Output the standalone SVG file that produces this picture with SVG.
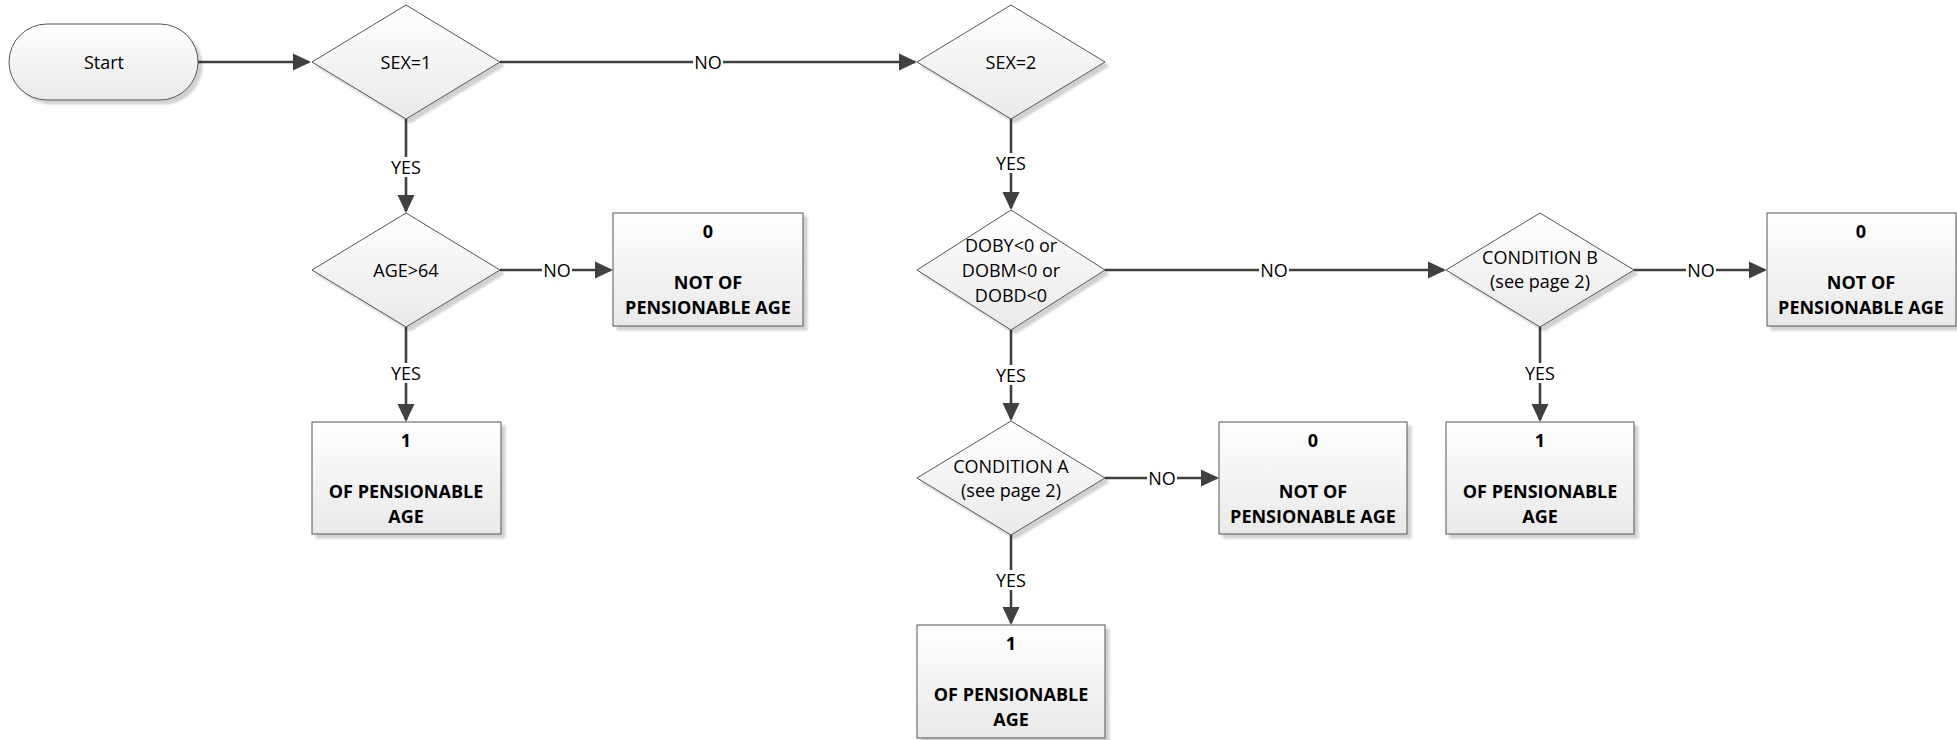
<svg xmlns="http://www.w3.org/2000/svg" width="1957" height="740" viewBox="0 0 1957 740">
<defs>
<linearGradient id="g" x1="0" y1="0" x2="0" y2="1">
<stop offset="0" stop-color="#ffffff"/>
<stop offset="1" stop-color="#e9e9e9"/>
</linearGradient>
<filter id="sh" x="-10%" y="-10%" width="125%" height="130%">
<feDropShadow dx="4" dy="4" stdDeviation="1.2" flood-color="#000" flood-opacity="0.18"/>
</filter>
<marker id="arr" markerUnits="userSpaceOnUse" markerWidth="20" markerHeight="20" refX="16" refY="9" orient="auto" viewBox="0 0 20 20">
<path d="M0,0.5 L18,9 L0,17.5 z" fill="#404040"/>
</marker>
<style>
.shape{fill:url(#g);stroke:#555;stroke-width:1;filter:url(#sh)}
.t{font-family:"Open Sans","Liberation Sans",sans-serif;font-size:18px;fill:#000;text-anchor:middle}
.b{font-weight:bold}
.c{fill:none;stroke:#404040;stroke-width:2.6;marker-end:url(#arr)}
.lb{fill:#fff}
</style>
</defs>
<rect width="1957" height="740" fill="#fff"/>

<g id="connectors">
<path class="c" d="M198,62 H309"/>
<path class="c" d="M500,62 H915"/>
<path class="c" d="M406,119 V211"/>
<path class="c" d="M500,270 H611"/>
<path class="c" d="M406,327 V420"/>
<path class="c" d="M1011,119 V208"/>
<path class="c" d="M1105,270 H1444"/>
<path class="c" d="M1634,270 H1765"/>
<path class="c" d="M1540,327 V420"/>
<path class="c" d="M1011,330 V419"/>
<path class="c" d="M1105,478 H1217"/>
<path class="c" d="M1011,535 V623"/>
<g id="labels">
<rect class="lb" x="693" y="52" width="30" height="20"/><text class="t" x="708" y="68.5">NO</text>
<rect class="lb" x="389" y="157" width="34" height="20"/><text class="t" x="406" y="173.5">YES</text>
<rect class="lb" x="542" y="260" width="30" height="20"/><text class="t" x="557" y="276.5">NO</text>
<rect class="lb" x="389" y="363" width="34" height="20"/><text class="t" x="406" y="379.5">YES</text>
<rect class="lb" x="994" y="153" width="34" height="20"/><text class="t" x="1011" y="169.5">YES</text>
<rect class="lb" x="1259" y="260" width="30" height="20"/><text class="t" x="1274" y="276.5">NO</text>
<rect class="lb" x="1686" y="260" width="30" height="20"/><text class="t" x="1701" y="276.5">NO</text>
<rect class="lb" x="1523" y="363" width="34" height="20"/><text class="t" x="1540" y="379.5">YES</text>
<rect class="lb" x="994" y="365" width="34" height="20"/><text class="t" x="1011" y="381.5">YES</text>
<rect class="lb" x="1147" y="468" width="30" height="20"/><text class="t" x="1162" y="484.5">NO</text>
<rect class="lb" x="994" y="570" width="34" height="20"/><text class="t" x="1011" y="586.5">YES</text>
</g>
</g>

<g id="start">
<rect class="shape" x="9" y="24" width="189" height="76" rx="38" ry="38"/>
<text class="t" x="104" y="68.5">Start</text>
</g>

<g id="sex1">
<polygon class="shape" points="406,5 500,62 406,119 312,62"/>
<text class="t" x="406" y="68.5">SEX=1</text>
</g>

<g id="sex2">
<polygon class="shape" points="1011,5 1105,62 1011,119 917,62"/>
<text class="t" x="1011" y="68.5">SEX=2</text>
</g>

<g id="age64">
<polygon class="shape" points="406,213 500,270 406,327 312,270"/>
<text class="t" x="406" y="276.5">AGE&gt;64</text>
</g>

<g id="notpens1">
<rect class="shape" x="613" y="213" width="190" height="113"/>
<text class="t b" x="708" y="238">0</text>
<text class="t b" x="708" y="289">NOT OF</text>
<text class="t b" x="708" y="314">PENSIONABLE AGE</text>
</g>

<g id="pens1">
<rect class="shape" x="312" y="422" width="189" height="112"/>
<text class="t b" x="406" y="447">1</text>
<text class="t b" x="406" y="498">OF PENSIONABLE</text>
<text class="t b" x="406" y="523">AGE</text>
</g>

<g id="dob">
<polygon class="shape" points="1011,210 1105,270 1011,330 917,270"/>
<text class="t" x="1011" y="251.5">DOBY&lt;0 or</text>
<text class="t" x="1011" y="276.5">DOBM&lt;0 or</text>
<text class="t" x="1011" y="301.5">DOBD&lt;0</text>
</g>

<g id="condB">
<polygon class="shape" points="1540,213 1634,270 1540,327 1446,270"/>
<text class="t" x="1540" y="264">CONDITION B</text>
<text class="t" x="1540" y="288">(see page 2)</text>
</g>

<g id="notpens3">
<rect class="shape" x="1767" y="213" width="189" height="113"/>
<text class="t b" x="1861" y="238">0</text>
<text class="t b" x="1861" y="289">NOT OF</text>
<text class="t b" x="1861" y="314">PENSIONABLE AGE</text>
</g>

<g id="pens3">
<rect class="shape" x="1446" y="422" width="188" height="112"/>
<text class="t b" x="1540" y="447">1</text>
<text class="t b" x="1540" y="498">OF PENSIONABLE</text>
<text class="t b" x="1540" y="523">AGE</text>
</g>

<g id="condA">
<polygon class="shape" points="1011,421 1105,478 1011,535 917,478"/>
<text class="t" x="1011" y="472.5">CONDITION A</text>
<text class="t" x="1011" y="496.5">(see page 2)</text>
</g>

<g id="notpens2">
<rect class="shape" x="1219" y="422" width="188" height="112"/>
<text class="t b" x="1313" y="447">0</text>
<text class="t b" x="1313" y="498">NOT OF</text>
<text class="t b" x="1313" y="523">PENSIONABLE AGE</text>
</g>

<g id="pens2">
<rect class="shape" x="917" y="625" width="188" height="113"/>
<text class="t b" x="1011" y="650">1</text>
<text class="t b" x="1011" y="701">OF PENSIONABLE</text>
<text class="t b" x="1011" y="726">AGE</text>
</g>
</svg>
